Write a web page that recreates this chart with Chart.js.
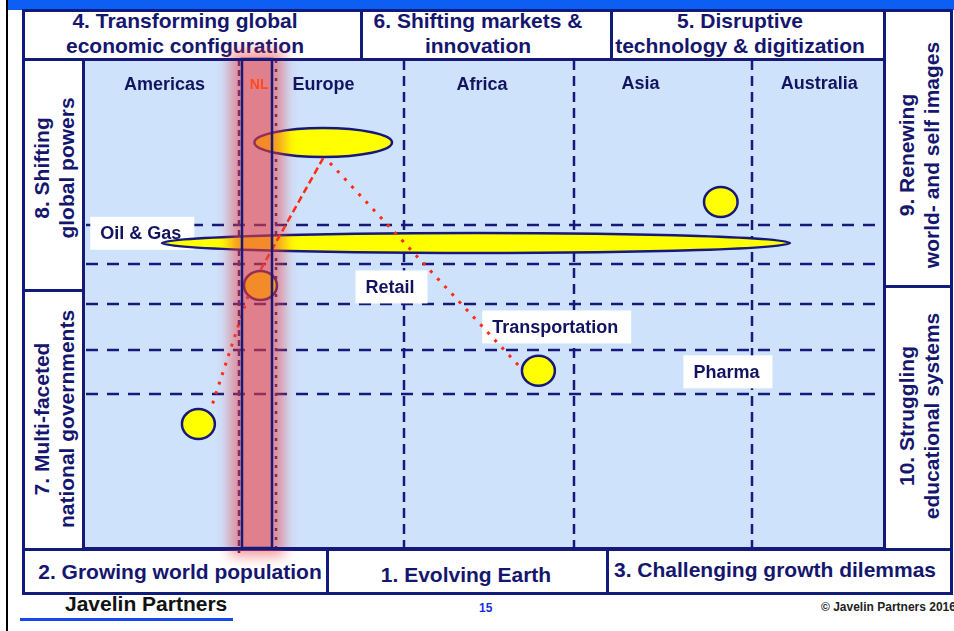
<!DOCTYPE html>
<html>
<head>
<meta charset="utf-8">
<script src="https://cdn.jsdelivr.net/npm/chart.js@4.4.1/dist/chart.umd.min.js"></script>
<style>
html,body{margin:0;padding:0;background:#fff;width:954px;height:631px;overflow:hidden;font-family:"Liberation Sans",Arial,sans-serif;}
#wrap{position:relative;width:954px;height:631px;}
.box{position:absolute;box-sizing:border-box;border:3px solid #111b7c;background:#fff;}
.t{position:absolute;color:#15166e;font-weight:bold;white-space:nowrap;transform:translate(-50%,-50%);text-align:center;font-size:21px;line-height:25px;}
.v{transform:translate(-50%,-50%) rotate(-90deg);}
#c{position:absolute;left:0;top:0;pointer-events:none;}
</style>
</head>
<body>
<div id="wrap">
  <div style="position:absolute;left:8px;top:0;width:946px;height:10px;background:#0d5ef2;"></div>
  <div style="position:absolute;left:6px;top:0;width:2px;height:631px;background:#000;"></div>
  <!-- outer frame -->
  <div class="box" style="left:22px;top:9px;width:931px;height:586px;"></div>
  <!-- top boxes -->
  <div class="box" style="left:22px;top:9px;width:341px;height:52px;"></div>
  <div class="box" style="left:360px;top:9px;width:253px;height:52px;"></div>
  <div class="box" style="left:610px;top:9px;width:276px;height:52px;"></div>
  <!-- left column -->
  <div class="box" style="left:22px;top:58px;width:64px;height:234px;"></div>
  <div class="box" style="left:22px;top:289px;width:64px;height:262px;"></div>
  <!-- right column -->
  <div class="box" style="left:883px;top:9px;width:70px;height:279px;"></div>
  <div class="box" style="left:883px;top:285px;width:70px;height:266px;"></div>
  <!-- bottom row -->
  <div class="box" style="left:22px;top:548px;width:307px;height:47px;"></div>
  <div class="box" style="left:326px;top:548px;width:284px;height:47px;"></div>
  <div class="box" style="left:606px;top:548px;width:347px;height:47px;"></div>

  <div class="t" style="left:185px;top:33px;">4. Transforming global<br>economic configuration</div>
  <div class="t" style="left:478px;top:33px;">6. Shifting markets &amp;<br>innovation</div>
  <div class="t" style="left:740px;top:33px;">5. Disruptive<br>technology &amp; digitization</div>

  <div class="t v" style="left:54px;top:168px;">8. Shifting<br>global powers</div>
  <div class="t v" style="left:54px;top:419px;">7. Multi-faceted<br>national governments</div>
  <div class="t v" style="left:919px;top:155px;">9. Renewing<br>world- and self images</div>
  <div class="t v" style="left:919px;top:416px;">10. Struggling<br>educational systems</div>

  <div class="t" style="left:180px;top:571px;">2. Growing world population</div>
  <div class="t" style="left:466px;top:574px;">1. Evolving Earth</div>
  <div class="t" style="left:775px;top:569px;">3. Challenging growth dilemmas</div>

  <div style="position:absolute;left:65px;top:592px;font-size:21px;font-weight:bold;color:#111;white-space:nowrap;">Javelin Partners</div>
  <div style="position:absolute;left:20px;top:618px;width:213px;height:3px;background:#1846f0;"></div>
  <div style="position:absolute;left:479px;top:601px;font-size:12px;font-weight:bold;color:#1a2ee0;">15</div>
  <div style="position:absolute;left:821px;top:600px;font-size:12px;font-weight:bold;color:#222;white-space:nowrap;">© Javelin Partners 2016</div>

  <canvas id="c" width="954" height="631"></canvas>
</div>
<script>
// ---- data ----
const regions = ['Americas', 'NL', 'Europe', 'Africa', 'Asia', 'Australia'];
const regionX = [10.06, 21.9, 29.94, 49.75, 69.56, 91.9];
const regionY = [94.9, 94.9, 94.9, 94.9, 95.1, 95.1];
const columnBounds = [19.4, 24.0, 40.0, 61.25, 83.5];
const rowBounds = [66.2, 58.2, 50.1, 40.6, 31.5];
const nlBand = [19.75, 23.5];

const bubbleNames = ['Europe', 'Oil & Gas', 'NL', 'Asia', 'Transportation', 'Americas'];
const bubbleX = [29.9, 49.0, 22.06, 79.6, 56.8, 14.3];
const bubbleY = [83.1, 62.5, 53.8, 70.9, 36.3, 25.4];
const bubbleSpanX = [8.6, 39.25, 2.06, 2.1, 2.06, 2.06];
const bubbleSpanY = [2.97, 2.05, 2.97, 3.07, 3.07, 3.07];

const sectors = ['Oil & Gas', 'Retail', 'Transportation', 'Pharma'];
const sectorX = [7.1, 38.25, 58.9, 80.3];
const sectorY = [64.5, 53.5, 45.3, 36.1];

const linkEuropeNL = [{x: 29.9, y: 79.9}, {x: 22.0, y: 56.8}];
const linkEuropeTransport = [{x: 30.75, y: 78.9}, {x: 54.5, y: 37.1}];
const linkNLAmericas = [{x: 20.5, y: 51.6}, {x: 15.9, y: 28.7}];

// ---- styles ----
const NAVY = '#16187a';
const RED = '#ff2a10';
const FONT = '"Liberation Sans", Arial, sans-serif';

const diagram = {
  id: 'diagram',
  beforeDatasetsDraw(chart) {
    const {ctx, chartArea: a, scales: {x, y}} = chart;
    ctx.save();
    ctx.fillStyle = '#cfe2fc';
    ctx.fillRect(a.left, a.top, a.right - a.left, a.bottom - a.top);
    // vertical dashed lines
    ctx.strokeStyle = NAVY;
    ctx.lineWidth = 2.5;
    columnBounds.forEach((v, i) => {
      const px = Math.round(x.getPixelForValue(v));
      ctx.setLineDash(i === 0 ? [6, 4] : i === 1 ? [3, 6] : [10, 6]);
      ctx.beginPath();
      ctx.moveTo(px, a.top);
      ctx.lineTo(px, a.bottom + 5);
      ctx.stroke();
    });
    // horizontal dashed lines
    ctx.setLineDash([12, 9]);
    rowBounds.forEach(v => {
      const py = Math.round(y.getPixelForValue(v));
      ctx.beginPath();
      ctx.moveTo(a.left + 2, py);
      ctx.lineTo(a.right, py);
      ctx.stroke();
    });
    ctx.setLineDash([]);
    // label boxes
    ctx.font = 'bold 18px ' + FONT;
    const boxes = sectors.map((s, i) => {
      const w = ctx.measureText(s).width;
      const cx = x.getPixelForValue(sectorX[i]);
      const cy = y.getPixelForValue(sectorY[i]);
      return {s, cx, cy, w};
    });
    ctx.fillStyle = '#fff';
    boxes.forEach(b => ctx.fillRect(b.cx - b.w / 2 - 10, b.cy - 16.5, b.w + 23, 33));
    // ellipses
    const meta = chart.getDatasetMeta(3);
    meta.data.forEach((el, i) => {
      const rx = Math.abs(x.getPixelForValue(bubbleX[i] + bubbleSpanX[i]) - x.getPixelForValue(bubbleX[i]));
      const ry = Math.abs(y.getPixelForValue(bubbleY[i] + bubbleSpanY[i]) - y.getPixelForValue(bubbleY[i]));
      ctx.beginPath();
      ctx.ellipse(el.x, el.y, rx, ry, 0, 0, Math.PI * 2);
      ctx.fillStyle = '#ffff00';
      ctx.fill();
      ctx.lineWidth = 2.5;
      ctx.strokeStyle = NAVY;
      ctx.stroke();
    });
    // label texts
    ctx.fillStyle = '#121460';
    ctx.textAlign = 'center';
    ctx.textBaseline = 'middle';
    boxes.forEach(b => ctx.fillText(b.s, b.cx, b.cy + 1));
    // region names
    regions.forEach((r, i) => {
      if (r === 'NL') return;
      ctx.fillText(r, x.getPixelForValue(regionX[i]), y.getPixelForValue(regionY[i]));
    });
    ctx.restore();
  },
  afterDatasetsDraw(chart) {
    const {ctx, chartArea: a, scales: {x, y}, width, height} = chart;
    const bl = x.getPixelForValue(nlBand[0]);
    const br = x.getPixelForValue(nlBand[1]);
    const top = a.top - 1, bottom = a.bottom;
    ctx.save();
    ctx.beginPath();
    ctx.rect(0, 0, width, height);
    ctx.rect(bl, top, br - bl, bottom - top);
    ctx.clip('evenodd');
    ctx.filter = 'blur(7px)';
    ctx.fillStyle = 'rgba(235,63,67,0.55)';
    ctx.fillRect(bl - 12, top - 8, br - bl + 24, bottom - top + 16);
    ctx.restore();
    ctx.save();
    ctx.fillStyle = 'rgba(235,63,67,0.6)';
    ctx.fillRect(bl, top, br - bl, bottom - top);
    ctx.strokeStyle = NAVY;
    ctx.lineWidth = 2.5;
    ctx.strokeRect(bl, top, br - bl, bottom - top);
    // plot border
    ctx.lineWidth = 3;
    ctx.strokeRect(a.left - 0.5, a.top - 0.5, a.right - a.left + 1, a.bottom - a.top + 1);
    // NL label
    const i = regions.indexOf('NL');
    ctx.fillStyle = '#ff4a1a';
    ctx.font = 'bold 14px ' + FONT;
    ctx.textAlign = 'center';
    ctx.textBaseline = 'middle';
    ctx.fillText(regions[i], x.getPixelForValue(regionX[i]), y.getPixelForValue(regionY[i]));
    ctx.restore();
  }
};

new Chart(document.getElementById('c'), {
  type: 'scatter',
  data: {
    datasets: [
      {label: 'Europe → NL', data: linkEuropeNL, showLine: true, borderColor: RED, borderWidth: 2.5, borderDash: [7, 4], pointRadius: 0},
      {label: 'Europe → Transportation', data: linkEuropeTransport, showLine: true, borderColor: RED, borderWidth: 3, borderDash: [3, 7.5], pointRadius: 0},
      {label: 'NL → Americas', data: linkNLAmericas, showLine: true, borderColor: RED, borderWidth: 3, borderDash: [3, 7], pointRadius: 0},
      {label: 'Bubbles', data: bubbleX.map((v, i) => ({x: v, y: bubbleY[i]})), pointRadius: 0, showLine: false}
    ]
  },
  options: {
    responsive: false,
    animation: false,
    events: [],
    layout: {padding: {left: 84, right: 70, top: 60, bottom: 83}},
    scales: {
      x: {type: 'linear', min: 0, max: 100, display: false},
      y: {type: 'linear', min: 0, max: 100, display: false}
    },
    plugins: {legend: {display: false}, tooltip: {enabled: false}}
  },
  plugins: [diagram]
});
</script>
</body>
</html>
